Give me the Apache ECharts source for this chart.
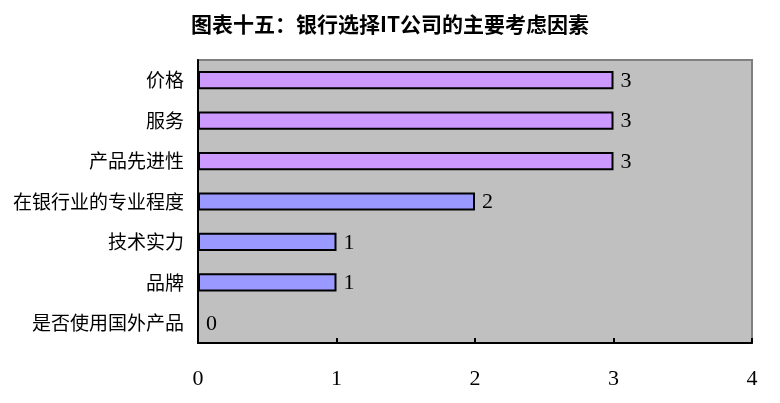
<!DOCTYPE html>
<html>
<head>
<meta charset="UTF-8">
<title></title>
<style>
  html, body { margin: 0; padding: 0; background: #fff; }
  #chart { width: 780px; height: 403px; }
</style>
</head>
<body>
<div id="chart"></div>
<script src="https://cdn.jsdelivr.net/npm/echarts@6/dist/echarts.min.js"></script>
<script>
// 类别（从上到下）
var categories = ['价格', '服务', '产品先进性', '在银行业的专业程度', '技术实力', '品牌', '是否使用国外产品'];
// 票数
var values = [3, 3, 3, 2, 1, 1, 0];
var xTicks = [0, 1, 2, 3, 4];

var myChart = echarts.init(document.getElementById('chart'));
myChart.setOption({
  animation: false,
  title: {
    text: '图表十五：银行选择IT公司的主要考虑因素',
    left: 'center',
    top: 9,
    textStyle: { fontFamily: 'Noto Sans CJK SC', fontSize: 21, fontWeight: 'bold', color: '#000' }
  },
  grid: {
    left: 198, right: 28, top: 60, bottom: 60,
    show: true,
    backgroundColor: '#C0C0C0',
    borderColor: '#808080',
    borderWidth: 2
  },
  xAxis: {
    type: 'value',
    min: xTicks[0],
    max: xTicks[xTicks.length - 1],
    interval: 1,
    splitLine: { show: false },
    axisLine: { show: true, lineStyle: { color: '#000', width: 2 } },
    axisTick: { show: true, inside: true, length: 5, lineStyle: { color: '#000', width: 2 } },
    axisLabel: { margin: 25, fontFamily: 'Liberation Serif', fontSize: 22, color: '#000' }
  },
  yAxis: {
    type: 'category',
    data: categories,
    inverse: true,
    axisLine: { show: true, lineStyle: { color: '#000', width: 2 } },
    axisTick: { show: false },
    axisLabel: { margin: 14, fontFamily: 'Noto Sans CJK SC', fontSize: 19, color: '#000' }
  },
  series: [{
    type: 'bar',
    data: values,
    barWidth: '45%',
    itemStyle: {
      color: function (p) { return p.dataIndex < 3 ? '#CC99FF' : '#9999FF'; },
      borderColor: '#000',
      borderWidth: 2
    },
    label: {
      show: true,
      position: 'right',
      distance: 7,
      offset: [0, 1],
      fontFamily: 'Liberation Serif',
      fontSize: 22,
      color: '#000'
    }
  }]
});
</script>
</body>
</html>
